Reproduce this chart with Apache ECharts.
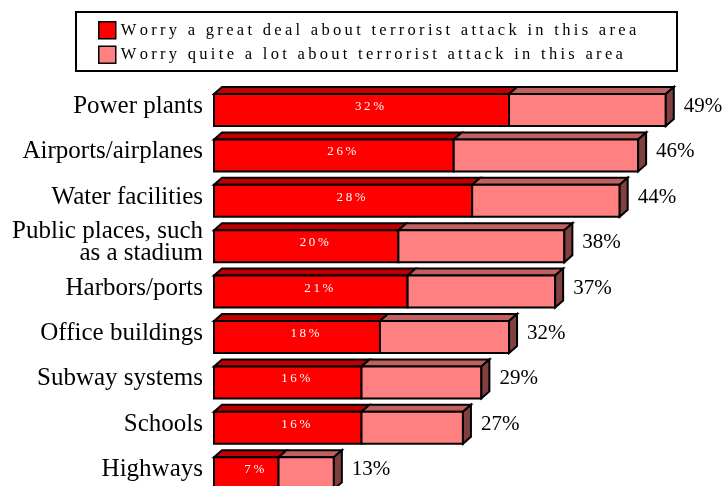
<!DOCTYPE html>
<html>
<head>
<meta charset="utf-8">
<script src="https://cdn.jsdelivr.net/npm/echarts@6/dist/echarts.min.js"></script>
<style>
  html, body { margin: 0; padding: 0; background: #fff; }
  #chart { width: 722px; height: 486px; }
</style>
</head>
<body>
<div id="chart"></div>
<script>
// Places where people worry about a terrorist attack (share of respondents, %)
const categories = [
  'Power plants',
  'Airports/airplanes',
  'Water facilities',
  'Public places, such\nas a stadium',
  'Harbors/ports',
  'Office buildings',
  'Subway systems',
  'Schools',
  'Highways'
];
const greatDeal = [32, 26, 28, 20, 21, 18, 16, 16, 7];      // worry a great deal
const combinedTotal = [49, 46, 44, 38, 37, 32, 29, 27, 13]; // great deal + quite a lot
const seriesNames = [
  'Worry a great deal about terrorist attack in this area',
  'Worry quite a lot about terrorist attack in this area'
];

const SERIF = '"Liberation Serif", "Times New Roman", serif';
const DEPTH_X = 8;     // horizontal offset of the 3D faces
const DEPTH_Y = 7;     // vertical offset of the 3D faces
const FRONT_H = 32;    // height of the front face of each bar

// spread letters out with thin spaces
const spaced = s => s.split('').join('\u2009');

function makeRenderer(palette, isLast) {
  return function (params, api) {
    const start = api.value(0);
    const end = api.value(1);
    const cat = api.value(2);
    const p0 = api.coord([start, cat]);
    const p1 = api.coord([end, cat]);
    const cy = p0[1];
    const top = cy - (FRONT_H + DEPTH_Y) / 2 + DEPTH_Y;
    const bottom = top + FRONT_H;
    const x0 = p0[0], x1 = p1[0];
    const stroke = { stroke: '#000', lineWidth: 2, lineJoin: 'miter' };
    const children = [
      {
        type: 'polygon',
        shape: { points: [[x0, top], [x0 + DEPTH_X, top - DEPTH_Y], [x1 + DEPTH_X, top - DEPTH_Y], [x1, top]] },
        style: Object.assign({ fill: palette.top }, stroke)
      },
      {
        type: 'rect',
        shape: { x: x0, y: top, width: x1 - x0, height: FRONT_H },
        style: Object.assign({ fill: palette.front }, stroke)
      }
    ];
    if (isLast) {
      children.push({
        type: 'polygon',
        shape: { points: [[x1, top], [x1 + DEPTH_X, top - DEPTH_Y], [x1 + DEPTH_X, bottom - DEPTH_Y], [x1, bottom]] },
        style: Object.assign({ fill: palette.side }, stroke)
      });
      children.push({
        type: 'text',
        style: {
          text: end + '%', x: x1 + 18, y: cy,
          fill: '#000', font: '21px ' + SERIF,
          align: 'left', verticalAlign: 'middle'
        }
      });
    } else {
      children.push({
        type: 'text',
        style: {
          text: spaced(end + '%'), x: (x0 + x1) / 2 + 8, y: cy,
          fill: '#fff', font: '13px ' + SERIF,
          align: 'center', verticalAlign: 'middle'
        }
      });
    }
    return { type: 'group', children: children };
  };
}

const greatData = categories.map((c, i) => [0, greatDeal[i], i]);
const lotData = categories.map((c, i) => [greatDeal[i], combinedTotal[i], i]);

const chart = echarts.init(document.getElementById('chart'), null, { renderer: 'canvas' });
chart.setOption({
  animation: false,
  backgroundColor: '#fff',
  grid: {
    left: 214, width: 461, top: 83.8, height: 408.6,
    containLabel: false, outerBoundsMode: 'none'
  },
  xAxis: { type: 'value', min: 0, max: 50, show: false },
  yAxis: {
    type: 'category',
    data: categories,
    inverse: true,
    axisLine: { show: false },
    axisTick: { show: false },
    splitLine: { show: false },
    axisLabel: {
      color: '#000', fontFamily: SERIF, fontSize: 25, lineHeight: 22,
      margin: 11, align: 'right'
    }
  },
  legend: {
    orient: 'vertical',
    left: 98, top: 21,
    padding: 0,
    itemWidth: 17, itemHeight: 17, itemGap: 6,
    icon: 'rect',
    selectedMode: false,
    itemStyle: { borderColor: '#000', borderWidth: 1.5 },
    textStyle: { color: '#000', fontFamily: SERIF, fontSize: 16.5 },
    formatter: name => spaced(name),
    data: seriesNames
  },
  graphic: [{
    type: 'rect',
    shape: { x: 76, y: 12, width: 601, height: 59 },
    style: { fill: 'none', stroke: '#000', lineWidth: 2 },
    silent: true
  }],
  series: [
    {
      name: seriesNames[0],
      type: 'custom',
      itemStyle: { color: '#ff0000' },
      encode: { x: [0, 1], y: 2 },
      renderItem: makeRenderer({ front: '#ff0000', top: '#c00000' }, false),
      data: greatData
    },
    {
      name: seriesNames[1],
      type: 'custom',
      itemStyle: { color: '#ff8080' },
      encode: { x: [0, 1], y: 2 },
      renderItem: makeRenderer({ front: '#ff8080', top: '#c06060', side: '#804040' }, true),
      data: lotData
    }
  ]
});
</script>
</body>
</html>
